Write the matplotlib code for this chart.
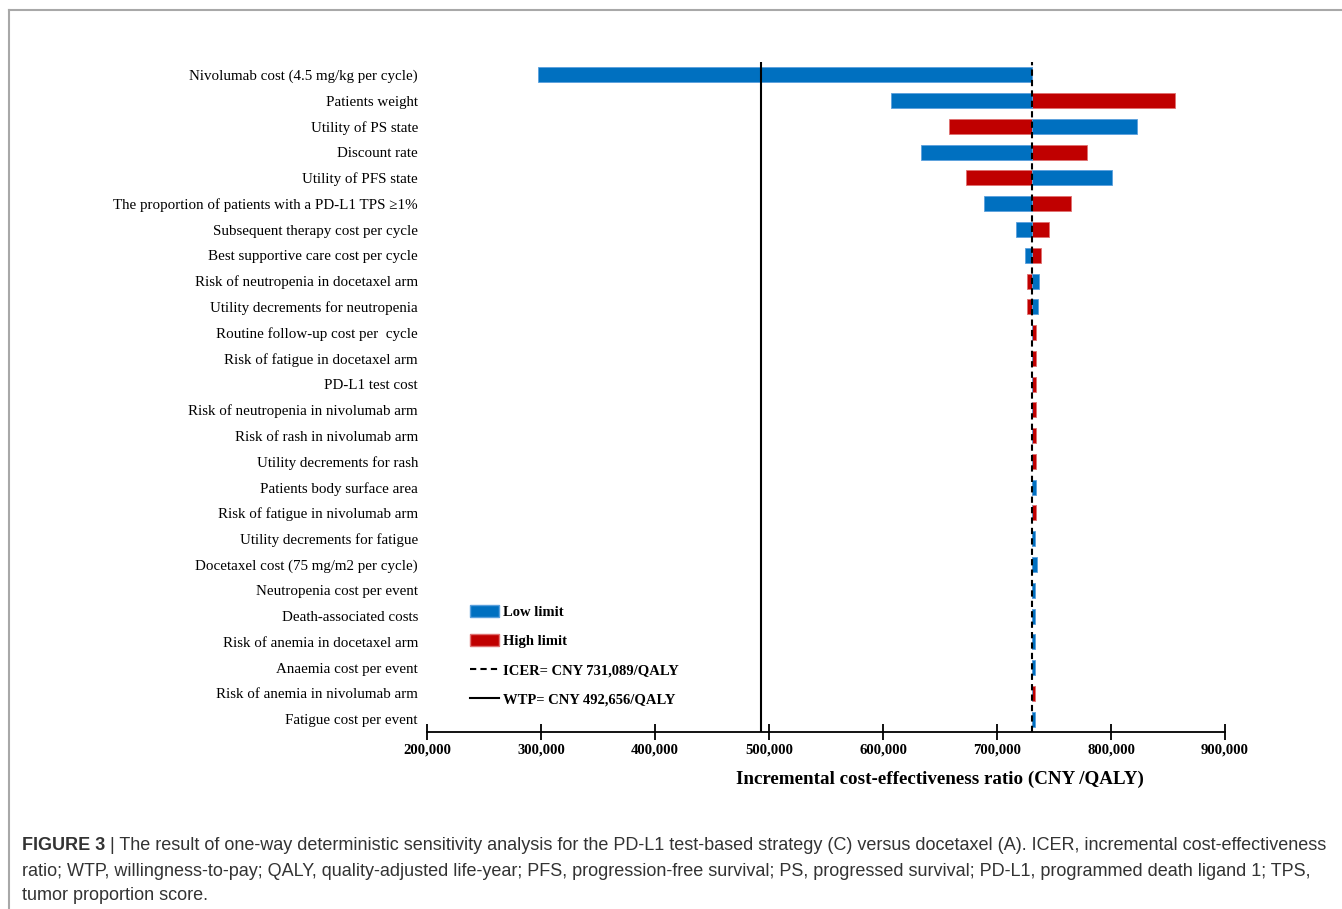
import numpy as np
import matplotlib.pyplot as plt
from matplotlib.patches import Patch
from matplotlib.lines import Line2D

# One-way sensitivity analysis: ICER at low / high limit of each parameter
parameters = [
    'Nivolumab cost (4.5 mg/kg per cycle)',
    'Patients weight',
    'Utility of PS state',
    'Discount rate',
    'Utility of PFS state',
    'The proportion of patients with a PD-L1 TPS \u22651%',
    'Subsequent therapy cost per cycle',
    'Best supportive care cost per cycle',
    'Risk of neutropenia in docetaxel arm',
    'Utility decrements for neutropenia',
    'Routine follow-up cost per  cycle',
    'Risk of fatigue in docetaxel arm',
    'PD-L1 test cost',
    'Risk of neutropenia in nivolumab arm',
    'Risk of rash in nivolumab arm',
    'Utility decrements for rash',
    'Patients body surface area',
    'Risk of fatigue in nivolumab arm',
    'Utility decrements for fatigue',
    'Docetaxel cost (75 mg/m2 per cycle)',
    'Neutropenia cost per event',
    'Death-associated costs',
    'Risk of anemia in docetaxel arm',
    'Anaemia cost per event',
    'Risk of anemia in nivolumab arm',
    'Fatigue cost per event',
]
low_limit = [297400, 606900, 822700, 633200, 800700, 688500, 716600, 724400,
             736700, 735800, 730700, 730700, 730700, 730700, 730700, 730700,
             734000, 730700, 733000, 735000, 733000, 733000, 733000, 733000,
             730900, 733000]
high_limit = [731089, 856000, 657800, 778800, 672700, 764800, 745500, 738500,
              726200, 726200, 733800, 733800, 733800, 733800, 733800, 733800,
              730300, 733800, 731089, 731089, 731089, 731089, 731089, 731089,
              733600, 731089]
icer = 731089
wtp = 492656
xticks = [200000, 300000, 400000, 500000, 600000, 700000, 800000, 900000]

blue = '#0070C0'
red = '#C00000'
serif = ['Liberation Serif', 'DejaVu Serif']

W, H = 1342, 909
fig = plt.figure(figsize=(W / 100, H / 100), dpi=100)
ax = fig.add_axes([427 / W, 1 - 732 / H, 798 / W, 670 / H])

y = np.arange(len(parameters))
low = np.array(low_limit)
high = np.array(high_limit)
bar_h = 0.58
ax.barh(y, np.abs(high - icer), left=np.minimum(high, icer), height=bar_h,
        color=red, edgecolor='#e07070', linewidth=0.6, zorder=2)
ax.barh(y, np.abs(low - icer), left=np.minimum(low, icer), height=bar_h,
        color=blue, edgecolor='#5aa0dd', linewidth=0.6, zorder=2)

ax.axvline(wtp, color='black', lw=1.5, zorder=3)
ax.axvline(icer, color='black', lw=1.5, ls=(0, (3, 2)), zorder=4)

ax.set_xlim(200000, 900000)
ax.set_ylim(len(parameters) - 0.5, -0.5)
ax.set_xticks(xticks)
ax.set_xticklabels([f'{t:,}' for t in xticks], fontfamily=serif,
                   fontweight='bold', fontsize=10.6)
ax.set_yticks(y)
ax.set_yticklabels(parameters, fontfamily=serif, fontsize=10.8)
ax.tick_params(axis='y', length=0, pad=6.5)
ax.tick_params(axis='x', direction='inout', length=11, width=1.3, pad=2.5)
for side in ['top', 'right', 'left']:
    ax.spines[side].set_visible(False)
ax.spines['bottom'].set_linewidth(1.3)

ax.set_xlabel('Incremental cost-effectiveness ratio (CNY /QALY)',
              fontfamily=serif, fontweight='bold', fontsize=13.7)
ax.xaxis.set_label_coords(0.643, -0.058)

handles = [
    Patch(facecolor=blue, edgecolor='#5aa0dd'),
    Patch(facecolor=red, edgecolor='#e07070'),
    Line2D([], [], color='black', lw=1.5, ls=(0, (3, 2))),
    Line2D([], [], color='black', lw=1.5),
]
labels = ['Low limit', 'High limit', 'ICER= CNY 731,089/QALY',
          'WTP= CNY 492,656/QALY']
ax.legend(handles, labels, loc='upper left', bbox_to_anchor=(0.054, 0.19),
          frameon=False, prop={'family': serif, 'weight': 'bold', 'size': 10.5},
          handlelength=2.0, handleheight=0.95, handletextpad=0.25,
          labelspacing=1.02, borderpad=0, borderaxespad=0)

# page frame
frame = '#a8a8a8'
fig.add_artist(Line2D([9 / W, 1], [1 - 10 / H, 1 - 10 / H], color=frame, lw=1.5))
fig.add_artist(Line2D([9 / W, 9 / W], [0, 1 - 10 / H], color=frame, lw=1.5))

# caption
cap_font = ['Liberation Sans', 'DejaVu Sans']
cap_color = '#333333'
cap_size = 13.0
lines = [
    ' | The result of one-way deterministic sensitivity analysis for the PD-L1 '
    'test-based strategy (C) versus docetaxel (A). ICER, incremental cost-effectiveness',
    'ratio; WTP, willingness-to-pay; QALY, quality-adjusted life-year; PFS, '
    'progression-free survival; PS, progressed survival; PD-L1, programmed death ligand 1; TPS,',
    'tumor proportion score.',
]
x0 = 22 / W
tb = fig.text(x0, 1 - 846 / H, 'FIGURE 3', fontfamily=cap_font, fontweight='bold',
              fontsize=cap_size, color=cap_color, va='center')
renderer = fig.canvas.get_renderer()
bb = tb.get_window_extent(renderer)
fig.text(bb.x1 / W, 1 - 846 / H, lines[0], fontfamily=cap_font,
         fontsize=cap_size, color=cap_color, va='center')
fig.text(x0, 1 - 871 / H, lines[1], fontfamily=cap_font,
         fontsize=cap_size, color=cap_color, va='center')
fig.text(x0, 1 - 895 / H, lines[2], fontfamily=cap_font,
         fontsize=cap_size, color=cap_color, va='center')

fig.savefig('out.png', dpi=100)
